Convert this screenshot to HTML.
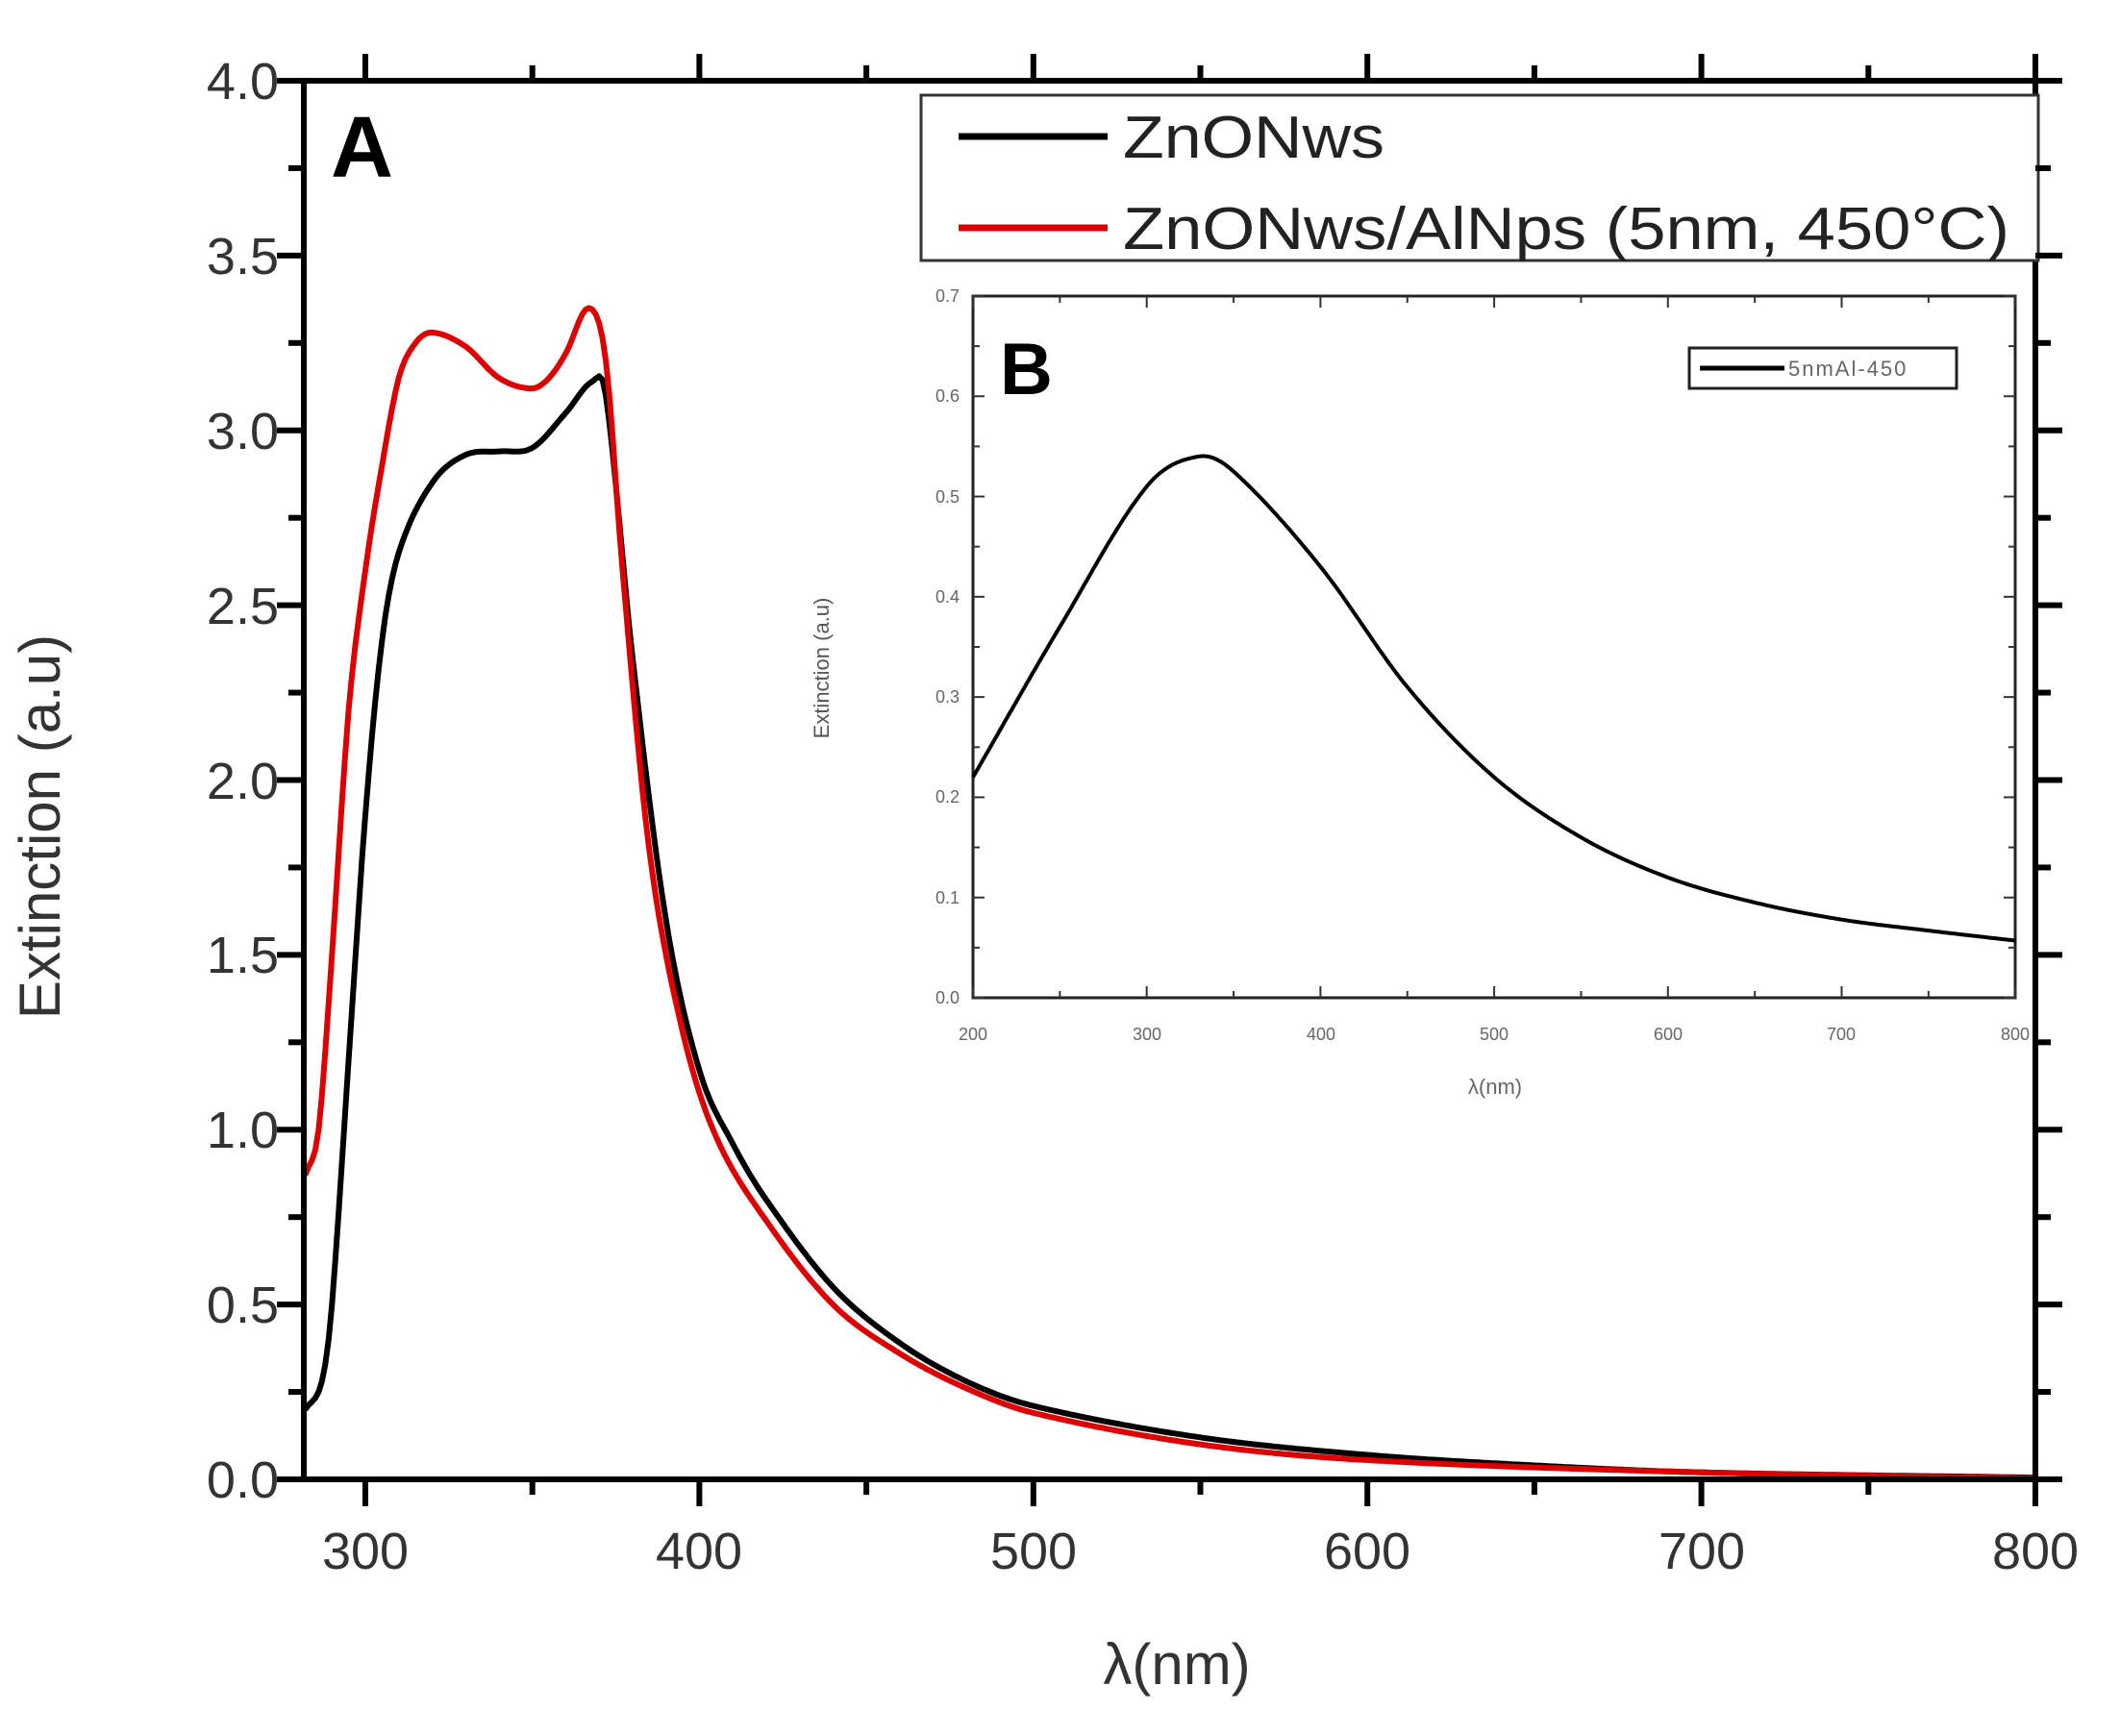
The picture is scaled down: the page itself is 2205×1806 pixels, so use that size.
<!DOCTYPE html>
<html><head><meta charset="utf-8"><style>
html,body{margin:0;padding:0;background:#fff;}
svg{display:block;font-family:"Liberation Sans",Arial,sans-serif;}
</style></head><body>
<svg id="s" width="2205" height="1806" viewBox="0 0 2205 1806" xmlns="http://www.w3.org/2000/svg">
<rect width="2205" height="1806" fill="#fff"/>
<g id="g"></g>
<rect x="316" y="84" width="1801" height="1455" fill="none" stroke="#000" stroke-width="6"/>
<g font-size="54" fill="#333" text-anchor="end">
<text x="290" y="1558">0.0</text><text x="290" y="1376">0.5</text><text x="290" y="1194">1.0</text>
<text x="290" y="1012">1.5</text><text x="290" y="831">2.0</text><text x="290" y="649">2.5</text>
<text x="290" y="467">3.0</text><text x="290" y="285">3.5</text><text x="290" y="103">4.0</text>
</g>
<g font-size="54" fill="#333" text-anchor="middle">
<text x="380" y="1632">300</text><text x="727" y="1632">400</text><text x="1075" y="1632">500</text>
<text x="1422" y="1632">600</text><text x="1770" y="1632">700</text><text x="2117" y="1632">800</text>
</g>
<text x="1224" y="1752" font-size="60" fill="#333" text-anchor="middle">λ(nm)</text>
<text transform="translate(62,860) rotate(-90)" font-size="60" fill="#333" text-anchor="middle">Extinction (a.u)</text>
<text x="344" y="184" font-size="90" font-weight="bold" fill="#000">A</text>
<rect x="958" y="99" width="1162" height="172" fill="#fff" stroke="#333" stroke-width="3"/>
<line x1="997" y1="142" x2="1152" y2="142" stroke="#000" stroke-width="7"/>
<line x1="997" y1="237" x2="1152" y2="237" stroke="#d00" stroke-width="7"/>
<text x="1168" y="164" font-size="62" fill="#222" textLength="272" lengthAdjust="spacingAndGlyphs">ZnONws</text>
<text x="1168" y="259" font-size="62" fill="#222" textLength="922" lengthAdjust="spacingAndGlyphs">ZnONws/AlNps (5nm, 450°C)</text>
<rect x="1012" y="308" width="1084" height="730" fill="none" stroke="#222" stroke-width="3"/>
<g id="gi"></g>
<g font-size="18" fill="#666" text-anchor="end">
<text x="998" y="1044">0.0</text><text x="998" y="940">0.1</text><text x="998" y="835">0.2</text>
<text x="998" y="731">0.3</text><text x="998" y="627">0.4</text><text x="998" y="523">0.5</text>
<text x="998" y="418">0.6</text><text x="998" y="314">0.7</text>
</g>
<g font-size="18" fill="#666" text-anchor="middle">
<text x="1012" y="1082">200</text><text x="1193" y="1082">300</text><text x="1374" y="1082">400</text>
<text x="1554" y="1082">500</text><text x="1735" y="1082">600</text><text x="1915" y="1082">700</text><text x="2096" y="1082">800</text>
</g>
<text x="1555" y="1138" font-size="22" fill="#666" text-anchor="middle">λ(nm)</text>
<text transform="translate(862,695) rotate(-90)" font-size="22" fill="#555" text-anchor="middle">Extinction (a.u)</text>
<text x="1040" y="410" font-size="76" font-weight="bold" fill="#000">B</text>
<rect x="1757" y="362" width="278" height="42" fill="#fff" stroke="#222" stroke-width="3"/>
<line x1="1768" y1="383" x2="1856" y2="383" stroke="#000" stroke-width="5"/>
<text x="1860" y="391" font-size="22" fill="#666" letter-spacing="2">5nmAl-450</text>
</svg>
<script>
var NS="http://www.w3.org/2000/svg";
function add(par,tag,at){var e=document.createElementNS(NS,tag);for(var k in at)e.setAttribute(k,at[k]);par.appendChild(e);return e;}
function interp(d,x){for(var i=0;i<d.length-1;i++){if(x<=d[i+1][0]){var a=d[i],b=d[i+1];var t=(x-a[0])/(b[0]-a[0]);
var p0=d[Math.max(i-1,0)],p3=d[Math.min(i+2,d.length-1)];
var m1=(b[1]-p0[1])/(b[0]-p0[0])*(b[0]-a[0]),m2=(p3[1]-a[1])/(p3[0]-a[0])*(b[0]-a[0]);
var t2=t*t,t3=t2*t;return (2*t3-3*t2+1)*a[1]+(t3-2*t2+t)*m1+(-2*t3+3*t2)*b[1]+(t3-t2)*m2;}}return d[d.length-1][1];}
function path(d,x0,x1,fx,fy){var s="";for(var x=x0;x<=x1;x+=1){s+=(s?"L":"M")+fx(x).toFixed(1)+","+fy(interp(d,x)).toFixed(1);}return s;}
var g=document.getElementById("g"),gi=document.getElementById("gi"),svg=document.getElementById("s");
var fx=function(l){return 380+(l-300)*3.474;},fy=function(v){return 1539-v*363.75;};
var blk=[[282,0.2],[287,0.28],[290,0.5],[295,1.2],[300,1.9],[305,2.4],[310,2.65],[320,2.85],[330,2.93],[340,2.94],[350,2.95],[360,3.05],[368,3.14],[372,3.1],[380,2.35],[390,1.6],[400,1.17],[410,0.96],[420,0.8],[440,0.55],[460,0.39],[480,0.28],[500,0.21],[550,0.12],[600,0.07],[650,0.04],[700,0.02],[800,0.005]];
var red=[[282,0.87],[286,1.0],[290,1.5],[295,2.2],[300,2.6],[305,2.9],[310,3.15],[315,3.25],[320,3.28],[330,3.24],[340,3.15],[350,3.12],[355,3.15],[360,3.22],[367,3.35],[372,3.2],[377,2.6],[385,1.8],[395,1.28],[405,0.98],[420,0.74],[440,0.5],[460,0.36],[480,0.26],[500,0.19],[550,0.1],[600,0.055],[700,0.02],[800,0.003]];
add(g,"path",{d:path(blk,282,800,fx,fy),fill:"none",stroke:"#000","stroke-width":6,"stroke-linejoin":"round"});
add(g,"path",{d:path(red,282,800,fx,fy),fill:"none",stroke:"#d00","stroke-width":6,"stroke-linejoin":"round"});
var ins=[[200,0.22],[250,0.37],[300,0.51],[330,0.54],[350,0.525],[400,0.43],[450,0.31],[500,0.22],[550,0.16],[600,0.12],[650,0.095],[700,0.078],[750,0.067],[800,0.057]];
var ix=function(l){return 1012+(l-200)*1.807;},iy=function(v){return 1038-v*1042.9;};
add(gi,"path",{d:path(ins,200,800,ix,iy),fill:"none",stroke:"#000","stroke-width":4});
for(var l=300;l<=800;l+=50){var X=fx(l),M=(l%100==0);
add(svg,"line",{x1:X,y1:1539,x2:X,y2:1539+(M?28:16),stroke:"#000","stroke-width":6});
add(svg,"line",{x1:X,y1:84,x2:X,y2:84-(M?28:16),stroke:"#000","stroke-width":6});}
for(var v=0;v<=4.001;v+=0.25){var Y=fy(v),M=(Math.abs(v*2-Math.round(v*2))<0.01);
add(svg,"line",{x1:316,y1:Y,x2:316-(M?28:16),y2:Y,stroke:"#000","stroke-width":6});
add(svg,"line",{x1:2117,y1:Y,x2:2117+(M?28:16),y2:Y,stroke:"#000","stroke-width":6});}
for(var l=200;l<=800;l+=50){var X=ix(l),M=(l%100==0);
add(svg,"line",{x1:X,y1:1038,x2:X,y2:1038-(M?12:7),stroke:"#333","stroke-width":2});
add(svg,"line",{x1:X,y1:308,x2:X,y2:308+(M?12:7),stroke:"#333","stroke-width":2});}
for(var v=0;v<=0.701;v+=0.05){var Y=iy(v),M=(Math.round(v*100)%10==0);
add(svg,"line",{x1:1012,y1:Y,x2:1012+(M?12:7),y2:Y,stroke:"#333","stroke-width":2});
add(svg,"line",{x1:2096,y1:Y,x2:2096-(M?12:7),y2:Y,stroke:"#333","stroke-width":2});}
</script>
</body></html>
